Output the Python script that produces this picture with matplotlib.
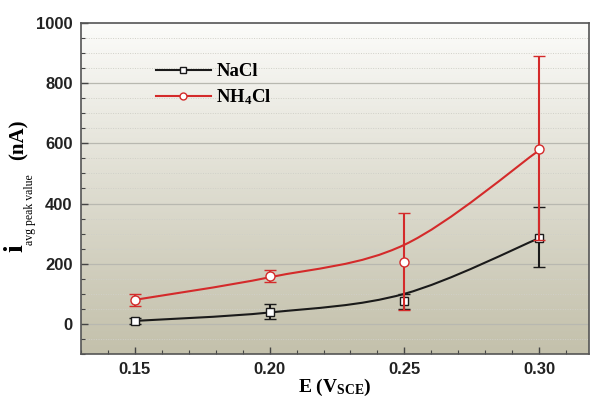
import numpy as np
import matplotlib
matplotlib.use('Agg')
import matplotlib.pyplot as plt
from matplotlib.path import Path
from matplotlib.patches import PathPatch
from matplotlib.ticker import MultipleLocator

plt.rcParams['mathtext.fontset'] = 'custom'
plt.rcParams['mathtext.rm'] = 'Liberation Serif:bold'
plt.rcParams['mathtext.bf'] = 'Liberation Serif:bold'
plt.rcParams['mathtext.it'] = 'Liberation Serif:bold'

# data
potential = [0.15, 0.20, 0.25, 0.30]

nacl_mean = [10, 38, 75, 287]
nacl_lo = [10, 22, 25, 97]
nacl_hi = [10, 27, 25, 103]
nacl_curve = [10, 38, 100, 285]   # knots of the smoothed line

nh4_mean = [80, 158, 207, 580]
nh4_lo = [20, 18, 162, 300]
nh4_hi = [20, 20, 163, 310]
nh4_curve = [80, 155, 263, 577]   # knots of the smoothed line

black = '#1a1a1a'
red = '#d42a2a'


# smooth line through knots, drawn as bezier segments
def smooth_path(xs, ys):
    pts = list(zip(xs, ys))
    verts = [pts[0]]
    codes = [Path.MOVETO]
    for i in range(len(pts) - 1):
        p0 = pts[i - 1] if i > 0 else pts[i]
        p1 = pts[i]
        p2 = pts[i + 1]
        p3 = pts[i + 2] if i + 2 < len(pts) else pts[i + 1]
        c1 = (p1[0] + (p2[0] - p0[0]) / 6, p1[1] + (p2[1] - p0[1]) / 6)
        c2 = (p2[0] - (p3[0] - p1[0]) / 6, p2[1] - (p3[1] - p1[1]) / 6)
        verts += [c1, c2, p2]
        codes += [Path.CURVE4] * 3
    return Path(verts, codes)


fig = plt.figure(figsize=(5.93, 3.98), dpi=100)
ax = fig.add_axes([81 / 593, 1 - 354 / 398, 508 / 593, 331 / 398])

# background gradient, white at top to khaki at bottom
grad = np.linspace(0, 1, 256).reshape(-1, 1)
top = np.array([252, 252, 250]) / 255
bottom = np.array([196, 193, 172]) / 255
img = bottom + (top - bottom) * grad[:, :, None] ** 1.1
ax.imshow(img, extent=[0.13, 0.3185, -100, 1000], aspect='auto', zorder=0, origin='lower')
ax.set_xlim(0.13, 0.3185)
ax.set_ylim(-100, 1000)

# grid
for yv in range(-50, 1000, 50):
    if yv % 200 == 0:
        ax.axhline(yv, color='#b8b8b0', lw=0.9, zorder=1)
    else:
        ax.axhline(yv, color='#d0d0c8', lw=0.7, ls=(0, (1, 1.5)), zorder=1)

# lines
ax.add_patch(PathPatch(smooth_path(potential, nacl_curve), fill=False, ec=black, lw=1.5, zorder=3))
ax.add_patch(PathPatch(smooth_path(potential, nh4_curve), fill=False, ec=red, lw=1.5, zorder=3))

ax.errorbar(potential, nacl_mean, yerr=[nacl_lo, nacl_hi], fmt='s', color=black, mfc='white',
            mec=black, ms=6, mew=1.0, elinewidth=1.5, capsize=4, capthick=1.5, zorder=4)
ax.errorbar(potential, nh4_mean, yerr=[nh4_lo, nh4_hi], fmt='o', color=red, mfc='white',
            mec=red, ms=6.5, mew=1.0, elinewidth=1.5, capsize=4, capthick=1.5, zorder=5)

# legend
ax.plot([], [], '-s', color=black, mfc='white', ms=5, lw=1.5, label='NaCl')
ax.plot([], [], '-o', color=red, mfc='white', ms=5, lw=1.5, label='NH$_4$Cl')
leg = ax.legend(loc='upper left', bbox_to_anchor=(0.115, 0.93), frameon=False,
                prop={'family': 'Liberation Serif', 'weight': 'bold', 'size': 13.5},
                handlelength=2.9, labelspacing=0.4, handletextpad=0.3)

# ticks
ax.xaxis.set_major_locator(MultipleLocator(0.05))
ax.xaxis.set_minor_locator(MultipleLocator(0.01))
ax.yaxis.set_major_locator(MultipleLocator(200))
ax.yaxis.set_minor_locator(MultipleLocator(50))
ax.tick_params(which='both', direction='in', color='#444444')
ax.tick_params(which='major', length=5, width=1.0, pad=6)
ax.tick_params(which='minor', length=3, width=0.8)
ax.set_xticks(potential)
ax.set_xticklabels(['0.15', '0.20', '0.25', '0.30'])
ax.set_yticks([0, 200, 400, 600, 800, 1000])
for lab in ax.get_xticklabels() + ax.get_yticklabels():
    lab.set_family('Liberation Sans')
    lab.set_fontweight('bold')
    lab.set_fontsize(12)
    lab.set_color('#222222')

for s in ax.spines.values():
    s.set_color('#555555')
    s.set_linewidth(1.2)

ax.set_xlabel(r'E (V$_{\mathrm{SCE}}$)', family='Liberation Serif', fontweight='bold',
              fontsize=14, labelpad=0)

# y label built from pieces so the "i" can be larger than its subscript
fig.text(16 / 593, 1 - 248 / 398, 'i', rotation=90, family='Liberation Serif',
         fontweight='bold', fontsize=20, ha='center', va='center')
fig.text(30 / 593, 1 - 210 / 398, 'avg peak value', rotation=90, family='Liberation Serif',
         fontsize=8.5, ha='center', va='center')
fig.text(19 / 593, 1 - 140 / 398, '(nA)', rotation=90, family='Liberation Serif',
         fontweight='bold', fontsize=15, ha='center', va='center')

fig.savefig('out.png', dpi=100)
